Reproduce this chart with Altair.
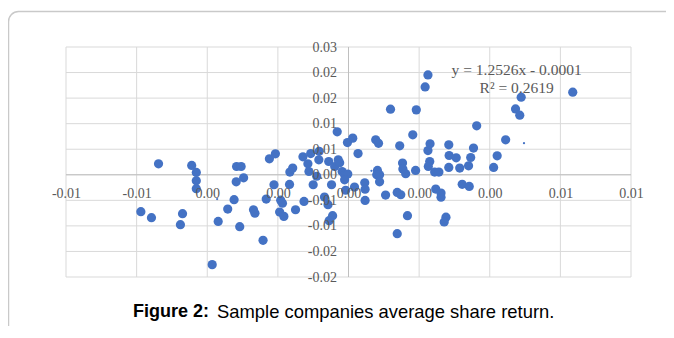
import altair as alt
import pandas as pd

# ---- data ----
x_vals = [-0.00538, -0.00588, -0.00558, -0.00476, -0.00470, -0.00444, -0.00431, -0.00431, -0.00431, -0.00386,
          -0.00369, -0.00342, -0.00324, -0.00318, -0.00317, -0.00304, -0.00297, -0.00308, -0.00269, -0.00265,
          -0.00242, -0.00233, -0.00224, -0.00207, -0.00211, -0.00195, -0.00192, -0.00187, -0.00183, -0.00167,
          -0.00166, -0.00158, -0.00150, -0.00129, -0.00126, -0.00115, -0.00112, -0.00107, -0.00100, -0.00090,
          -0.00084, -0.00083, -0.00068, -0.00058, -0.00056, -0.00048, -0.00045, -0.00055, -0.00039, -0.00032,
          -0.00029, -0.00025, -0.00018, -0.00011, -0.00002, -0.00011, -0.00008, -0.00003, 0.00012, 0.00017,
          0.00027, 0.00046, 0.00047, 0.00047, 0.00077, 0.00085, 0.00082, 0.00080, 0.00088, 0.00088,
          0.00105, 0.00119, 0.00138, 0.00138, 0.00145, 0.00148, 0.00153, 0.00154, 0.00162, 0.00167,
          0.00182, 0.00190, 0.00192, 0.00217, 0.00225, 0.00225, 0.00230, 0.00226, 0.00231, 0.00244,
          0.00256, 0.00247, 0.00262, 0.00262, 0.00276, 0.00271, 0.00284, 0.00285, 0.00284, 0.00305,
          0.00315, 0.00322, 0.00342, 0.00340, 0.00346, 0.00354, 0.00363, 0.00411, 0.00421, 0.00445,
          0.00473, 0.00485, 0.00489, 0.00635]
y_vals = [0.00215, -0.00723, -0.00840, -0.00977, -0.00762, 0.00182, 0.00045, -0.00117, -0.00273, -0.01758,
          -0.00912, -0.00670, -0.00488, -0.00137, 0.00162, 0.00162, -0.00059, -0.01016, -0.00684, -0.00752,
          -0.01283, -0.00475, 0.00313, 0.00410, -0.00195, -0.00729, -0.00498, -0.00557, -0.00814, -0.00189,
          0.00053, 0.00131, -0.00684, 0.00352, -0.00521, 0.00215, 0.00064, 0.00416, -0.00195, -0.00029,
          0.00293, 0.00459, -0.00436, -0.00586, 0.00260, -0.00195, -0.00801, -0.00898, 0.00162, 0.00840,
          0.00293, 0.00234, 0.00064, 0.00000, 0.00014, -0.00098, -0.00303, 0.00631, 0.00717, -0.00240,
          0.00416, -0.00156, -0.00283, -0.00502, 0.00684, 0.00615, 0.00084, 0.00000, 0.00000, -0.00137,
          -0.00396, 0.01283, -0.01152, -0.00346, 0.00566, -0.00391, 0.00229, 0.00111, 0.00020, -0.00801,
          0.00781, 0.00084, 0.01270, 0.01719, 0.01953, 0.00473, 0.00260, 0.00162, 0.00605, 0.00053,
          0.00053, -0.00279, -0.00357, -0.00439, -0.00830, -0.00924, 0.00586, 0.00377, 0.00143, 0.00332,
          0.00131, -0.00186, -0.00229, 0.00176, 0.00338, 0.00523, 0.00957, 0.00143, 0.00371, 0.00684,
          0.01289, 0.01166, 0.01518, 0.01615]
small_x = [0.00497, 0.00065, -0.00372]
small_y = [0.00619, 0.00078, -0.00475]

x_ticks = [-0.008, -0.006, -0.004, -0.002, 0.0, 0.002, 0.004, 0.006, 0.008]
x_labels = ["-0.01", "-0.01", "0.00", "0.00", "0.00", "0.00", "0.00", "0.01", "0.01"]
y_ticks = [-0.02, -0.015, -0.01, -0.005, 0.0, 0.005, 0.01, 0.015, 0.02, 0.025]
y_labels = ["-0.02", "-0.02", "-0.01", "-0.01", "0.00", "0.01", "0.01", "0.02", "0.02", "0.03"]

eq_text = ["y = 1.2526x - 0.0001", "R\u00b2 = 0.2619"]
eq_x = [0.00476, 0.00476]
eq_y = [0.02051, 0.01699]

caption_bold = "Figure 2:"
caption_rest = "Sample companies average share return."

# ---- layout ----
W, H = 565, 230
PAD = {"left": 58, "top": 39, "right": 35, "bottom": 49}
GRID = "#d9d9d9"
AXISLINE = "#bfbfbf"
TEXT = "#595959"
BLUE = "#4472C4"

x_dom = [x_ticks[0], x_ticks[-1]]
y_dom = [y_ticks[0], y_ticks[-1]]
xs = alt.Scale(domain=x_dom, nice=False, zero=False)
ys = alt.Scale(domain=y_dom, nice=False, zero=False)

x_step = x_ticks[1] - x_ticks[0]
y_step = y_ticks[1] - y_ticks[0]


def arr(vals):
    return "[" + ",".join("'" + v + "'" for v in vals) + "]"


x_expr = f"{arr(x_labels)}[round((datum.value - ({x_ticks[0]})) / {x_step})]"
y_expr = f"{arr(y_labels)}[round((datum.value - ({y_ticks[0]})) / {y_step})]"

x_off = -(H * (0 - y_dom[0]) / (y_dom[1] - y_dom[0]))
y_off = -(W * (0 - x_dom[0]) / (x_dom[1] - x_dom[0]))

x_axis = alt.Axis(values=x_ticks, labelExpr=x_expr, grid=False, ticks=False, domain=False,
                  offset=x_off, labelPadding=12, labelFont="Liberation Serif", labelFontSize=14,
                  labelColor=TEXT, labelOverlap=False, labelFlush=False, zindex=1, title="")
y_axis = alt.Axis(values=y_ticks, labelExpr=y_expr, grid=False, ticks=False, domain=False,
                  offset=y_off, labelPadding=12, labelFont="Liberation Serif", labelFontSize=14,
                  labelColor=TEXT, labelOverlap=False, labelFlush=False, zindex=1, title="")

pts = pd.DataFrame({"x": x_vals, "y": y_vals})
small = pd.DataFrame({"x": small_x, "y": small_y})
xt = pd.DataFrame({"x": x_ticks})
yt = pd.DataFrame({"y": y_ticks})
zero = pd.DataFrame({"x": [0.0], "y": [0.0]})
eq = pd.DataFrame({"x": eq_x, "y": eq_y, "t": eq_text})
one = pd.DataFrame({"a": [0]})

X = alt.X("x:Q", scale=xs, axis=x_axis)
Y = alt.Y("y:Q", scale=ys, axis=y_axis)

frame = alt.Chart(one).mark_rect(
    fillOpacity=0, stroke="#c9c9c9", strokeWidth=1.5, cornerRadius=10
).encode(x=alt.value(-57.5), x2=alt.value(700), y=alt.value(-35.5), y2=alt.value(400))

xgrid = alt.Chart(xt).mark_rule(color=GRID, strokeWidth=1).encode(x=X)
ygrid = alt.Chart(yt).mark_rule(color=GRID, strokeWidth=1).encode(y=Y)
xzero = alt.Chart(zero).mark_rule(color=AXISLINE, strokeWidth=1).encode(x=X)
yzero = alt.Chart(zero).mark_rule(color=AXISLINE, strokeWidth=1).encode(y=Y)

points = alt.Chart(pts).mark_circle(size=85, color=BLUE, opacity=1).encode(x=X, y=Y)
tiny = alt.Chart(small).mark_circle(size=5, color=BLUE, opacity=1).encode(x=X, y=Y)
eqn = alt.Chart(eq).mark_text(font="Liberation Serif", fontSize=15.5, color=TEXT, align="center",
                              baseline="middle").encode(x=X, y=Y, text="t:N")
cap1 = alt.Chart(one).mark_text(text=caption_bold, font="Liberation Sans", fontSize=18, fontWeight="bold",
                                color="#000000", align="left", baseline="middle").encode(
    x=alt.value(67), y=alt.value(265))
cap2 = alt.Chart(one).mark_text(text=caption_rest, font="Liberation Sans", fontSize=18.4,
                                color="#000000", align="left", baseline="middle").encode(
    x=alt.value(151), y=alt.value(265))

chart = alt.layer(frame, xgrid, ygrid, xzero, yzero, points, tiny, eqn, cap1, cap2).properties(
    width=W, height=H, padding=PAD, autosize=alt.AutoSizeParams(type="none"), background="#ffffff"
).configure_view(strokeWidth=0)

chart.save("out.html", embed_options={"renderer": "svg", "actions": False})
